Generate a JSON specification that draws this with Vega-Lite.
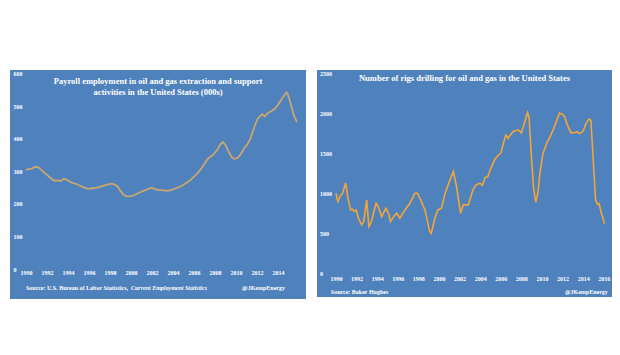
{
  "$schema": "https://vega.github.io/schema/vega-lite/v6.json",
  "padding": {"left": 10, "top": 70, "right": 0, "bottom": 0},
  "background": "white",
  "spacing": 11,
  "config": {"view": {"stroke": null}, "font": "Liberation Serif", "axis": {"labelOverlap": false, "labelFlush": false, "labelBound": false, "tickCount": 40}},
  "datasets": {
    "emp": [
      {"year":1990.0,"value":305},{"year":1990.3,"value":307},{"year":1990.6,"value":309},{"year":1990.9,"value":314},{"year":1991.2,"value":312},{"year":1991.5,"value":303},{"year":1991.8,"value":295},{"year":1992.0,"value":289},{"year":1992.4,"value":278},{"year":1992.7,"value":271},{"year":1993.0,"value":272},{"year":1993.3,"value":270},{"year":1993.6,"value":277},{"year":1993.9,"value":274},{"year":1994.3,"value":266},{"year":1994.8,"value":261},{"year":1995.2,"value":255},{"year":1995.6,"value":250},{"year":1995.9,"value":246},{"year":1996.3,"value":248},{"year":1996.7,"value":249},{"year":1997.0,"value":252},{"year":1997.5,"value":257},{"year":1998.1,"value":262},{"year":1998.4,"value":260},{"year":1998.7,"value":255},{"year":1999.0,"value":240},{"year":1999.3,"value":228},{"year":1999.6,"value":223},{"year":2000.0,"value":224},{"year":2000.4,"value":228},{"year":2000.8,"value":235},{"year":2001.2,"value":240},{"year":2001.6,"value":245},{"year":2001.9,"value":250},{"year":2002.2,"value":247},{"year":2002.5,"value":243},{"year":2002.9,"value":242},{"year":2003.5,"value":240},{"year":2003.9,"value":243},{"year":2004.3,"value":248},{"year":2004.8,"value":255},{"year":2005.3,"value":265},{"year":2005.7,"value":274},{"year":2006.0,"value":284},{"year":2006.5,"value":300},{"year":2006.9,"value":318},{"year":2007.3,"value":338},{"year":2007.8,"value":350},{"year":2008.2,"value":365},{"year":2008.5,"value":382},{"year":2008.75,"value":390},{"year":2009.0,"value":381},{"year":2009.3,"value":360},{"year":2009.6,"value":343},{"year":2009.9,"value":338},{"year":2010.2,"value":342},{"year":2010.5,"value":355},{"year":2010.8,"value":372},{"year":2011.1,"value":383},{"year":2011.4,"value":402},{"year":2011.6,"value":422},{"year":2011.85,"value":445},{"year":2012.1,"value":463},{"year":2012.5,"value":475},{"year":2012.76,"value":468},{"year":2013.0,"value":478},{"year":2013.4,"value":485},{"year":2013.7,"value":492},{"year":2014.0,"value":504},{"year":2014.4,"value":524},{"year":2014.8,"value":542},{"year":2014.9,"value":540},{"year":2015.2,"value":509},{"year":2015.5,"value":473},{"year":2015.8,"value":451}
    ],
    "rigs": [
      {"year":1990.0,"value":1000},{"year":1990.1,"value":940},{"year":1990.2,"value":896},{"year":1990.4,"value":960},{"year":1990.65,"value":1001},{"year":1990.94,"value":1130},{"year":1991.2,"value":917},{"year":1991.43,"value":791},{"year":1991.6,"value":800},{"year":1991.8,"value":770},{"year":1991.96,"value":791},{"year":1992.2,"value":680},{"year":1992.5,"value":603},{"year":1992.7,"value":645},{"year":1992.98,"value":917},{"year":1993.2,"value":582},{"year":1993.45,"value":645},{"year":1993.7,"value":780},{"year":1993.9,"value":875},{"year":1994.1,"value":833},{"year":1994.44,"value":707},{"year":1994.85,"value":812},{"year":1995.1,"value":750},{"year":1995.3,"value":645},{"year":1995.6,"value":707},{"year":1995.9,"value":750},{"year":1996.2,"value":687},{"year":1996.7,"value":791},{"year":1997.18,"value":875},{"year":1997.67,"value":1001},{"year":1997.9,"value":1001},{"year":1998.15,"value":938},{"year":1998.64,"value":791},{"year":1999.1,"value":519},{"year":1999.25,"value":495},{"year":1999.6,"value":687},{"year":1999.9,"value":791},{"year":2000.25,"value":812},{"year":2000.6,"value":1001},{"year":2001.07,"value":1168},{"year":2001.4,"value":1273},{"year":2001.7,"value":1085},{"year":2002.1,"value":750},{"year":2002.35,"value":854},{"year":2002.85,"value":854},{"year":2003.3,"value":1043},{"year":2003.6,"value":1106},{"year":2003.98,"value":1127},{"year":2004.2,"value":1100},{"year":2004.5,"value":1200},{"year":2004.75,"value":1210},{"year":2005.0,"value":1300},{"year":2005.4,"value":1420},{"year":2005.7,"value":1470},{"year":2006.0,"value":1500},{"year":2006.3,"value":1650},{"year":2006.5,"value":1730},{"year":2006.7,"value":1690},{"year":2007.2,"value":1775},{"year":2007.7,"value":1796},{"year":2008.0,"value":1755},{"year":2008.3,"value":1880},{"year":2008.6,"value":2010},{"year":2008.75,"value":1950},{"year":2009.0,"value":1400},{"year":2009.2,"value":1050},{"year":2009.4,"value":885},{"year":2009.6,"value":1000},{"year":2009.8,"value":1250},{"year":2010.1,"value":1500},{"year":2010.5,"value":1640},{"year":2010.8,"value":1710},{"year":2011.1,"value":1800},{"year":2011.4,"value":1900},{"year":2011.7,"value":2005},{"year":2012.0,"value":1990},{"year":2012.2,"value":1960},{"year":2012.4,"value":1880},{"year":2012.8,"value":1760},{"year":2013.1,"value":1760},{"year":2013.4,"value":1770},{"year":2013.7,"value":1750},{"year":2014.0,"value":1780},{"year":2014.3,"value":1880},{"year":2014.55,"value":1930},{"year":2014.75,"value":1915},{"year":2014.9,"value":1600},{"year":2015.05,"value":1250},{"year":2015.2,"value":920},{"year":2015.4,"value":860},{"year":2015.55,"value":870},{"year":2015.7,"value":780},{"year":2015.9,"value":700},{"year":2016.05,"value":620}
    ],
    "one": [{}]
  },
  "hconcat": [
    {
      "width": 296,
      "height": 229,
      "view": {"fill": "#4f81bd", "stroke": null},
      "layer": [
        {
          "data": {"name": "emp"},
          "mark": {"type": "line", "color": "#c9a66e", "strokeWidth": 1.8},
          "encoding": {
            "x": {"field": "year", "type": "quantitative",
              "scale": {"domain": [1988.48, 2016.67], "nice": false, "zero": false},
              "axis": {"values": [1990,1992,1994,1996,1998,2000,2002,2004,2006,2008,2010,2012,2014], "tickCount": 40, "format": "d", "title": null, "grid": false, "domain": false, "ticks": false, "tickSize": 0, "labelColor": "white", "labelFontSize": 6, "labelFont": "Liberation Serif", "labelFontWeight": "bold", "offset": -32, "labelPadding": 2, "labelOverlap": false}},
            "y": {"field": "value", "type": "quantitative",
              "scale": {"domain": [-92, 611], "nice": false, "zero": false},
              "axis": {"values": [0,100,200,300,400,500,600], "tickCount": 40, "format": "d", "title": null, "grid": false, "domain": false, "ticks": false, "tickSize": 0, "labelAlign": "left", "labelBaseline": "middle", "labelPadding": -3, "labelColor": "white", "labelFontSize": 6, "labelFont": "Liberation Serif", "labelFontWeight": "bold", "labelOverlap": false}}
          }
        },
        {
          "data": {"name": "one"},
          "mark": {"type": "text", "align": "center", "baseline": "middle", "fontSize": 8.5, "font": "Liberation Serif", "fontWeight": "bold", "color": "white", "lineHeight": 11},
          "encoding": {"x": {"datum": 2002.575}, "y": {"datum": 576}, "text": {"value": ["Payroll employment in oil and gas extraction and support", "activities in the United States (000s)"]}}
        },
        {
          "data": {"name": "one"},
          "mark": {"type": "text", "align": "left", "baseline": "middle", "fontSize": 6, "font": "Liberation Serif", "fontWeight": "bold", "color": "white"},
          "encoding": {"x": {"datum": 1990}, "y": {"datum": -58}, "text": {"value": "Source: U.S. Bureau of Labor Statistics,"}}
        },
        {
          "data": {"name": "one"},
          "mark": {"type": "text", "align": "left", "baseline": "middle", "fontSize": 6, "font": "Liberation Serif", "fontWeight": "bold", "fontStyle": "italic", "color": "white"},
          "encoding": {"x": {"datum": 2000}, "y": {"datum": -58}, "text": {"value": "Current Employment Statistics"}}
        },
        {
          "data": {"name": "one"},
          "mark": {"type": "text", "align": "right", "baseline": "middle", "fontSize": 6, "font": "Liberation Serif", "fontWeight": "bold", "color": "white"},
          "encoding": {"x": {"datum": 2014.67}, "y": {"datum": -58}, "text": {"value": "@JKempEnergy"}}
        }
      ]
    },
    {
      "width": 295,
      "height": 227,
      "view": {"fill": "#4f81bd", "stroke": null},
      "layer": [
        {
          "data": {"name": "rigs"},
          "mark": {"type": "line", "color": "#f4a534", "strokeWidth": 1.6},
          "encoding": {
            "x": {"field": "year", "type": "quantitative",
              "scale": {"domain": [1988.16, 2016.8], "nice": false, "zero": false},
              "axis": {"values": [1990,1992,1994,1996,1998,2000,2002,2004,2006,2008,2010,2012,2014,2016], "tickCount": 40, "format": "d", "title": null, "grid": false, "domain": false, "ticks": false, "tickSize": 0, "labelColor": "white", "labelFontSize": 6, "labelFont": "Liberation Serif", "labelFontWeight": "bold", "offset": -24, "labelPadding": 2, "labelOverlap": false}},
            "y": {"field": "value", "type": "quantitative",
              "scale": {"domain": [-301, 2546], "nice": false, "zero": false},
              "axis": {"values": [0,500,1000,1500,2000,2500], "tickCount": 40, "format": "d", "title": null, "grid": false, "domain": false, "ticks": false, "tickSize": 0, "labelAlign": "left", "labelBaseline": "middle", "labelPadding": -2.5, "labelColor": "white", "labelFontSize": 6, "labelFont": "Liberation Serif", "labelFontWeight": "bold", "labelOverlap": false}}
          }
        },
        {
          "data": {"name": "one"},
          "mark": {"type": "text", "align": "center", "baseline": "middle", "fontSize": 8.5, "font": "Liberation Serif", "fontWeight": "bold", "color": "white"},
          "encoding": {"x": {"datum": 2002.48}, "y": {"datum": 2450}, "text": {"value": "Number of  rigs drilling for oil and gas in the United States"}}
        },
        {
          "data": {"name": "one"},
          "mark": {"type": "text", "align": "left", "baseline": "middle", "fontSize": 6, "font": "Liberation Serif", "fontWeight": "bold", "color": "white"},
          "encoding": {"x": {"datum": 1989.5}, "y": {"datum": -238}, "text": {"value": "Source: Baker Hughes"}}
        },
        {
          "data": {"name": "one"},
          "mark": {"type": "text", "align": "right", "baseline": "middle", "fontSize": 6, "font": "Liberation Serif", "fontWeight": "bold", "color": "white"},
          "encoding": {"x": {"datum": 2016.4}, "y": {"datum": -238}, "text": {"value": "@JKempEnergy"}}
        }
      ]
    }
  ]
}
